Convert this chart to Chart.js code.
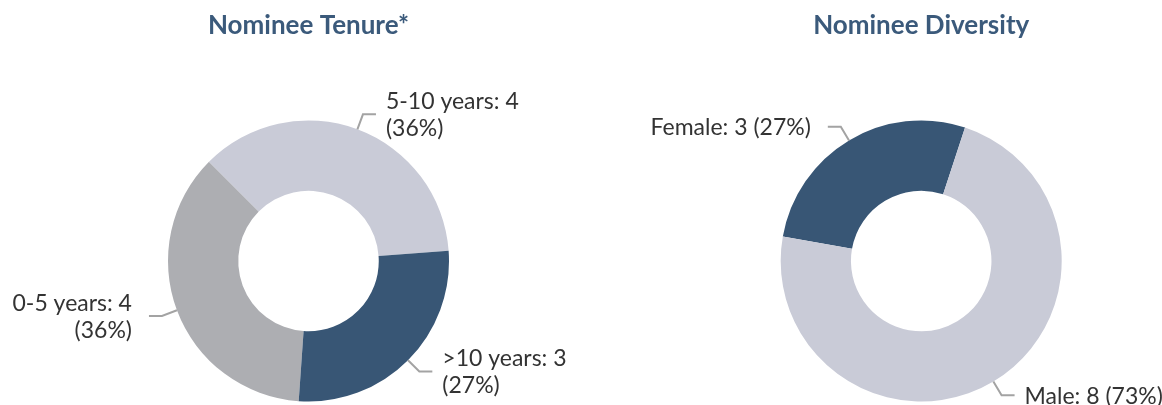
<!DOCTYPE html>
<html>
<head>
<meta charset="utf-8">
<script src="https://cdn.jsdelivr.net/npm/chart.js@4.4.1/dist/chart.umd.min.js"></script>
<style>
  html, body { margin: 0; padding: 0; background: #ffffff; }
  body { width: 1162px; height: 405px; position: relative; overflow: hidden; }
  .box { position: absolute; top: 0; width: 581px; height: 405px; }
  #boxL { left: 0; }
  #boxR { left: 581px; }
</style>
</head>
<body>
<div class="box" id="boxL"><canvas id="tenure"></canvas></div>
<div class="box" id="boxR"><canvas id="diversity"></canvas></div>
<script>
// ---- data ----
const tenureTitle = 'Nominee Tenure*';
const tenureLabels = ['0-5 years', '5-10 years', '>10 years'];
const tenureValues = [4, 4, 3];
const tenureColors = ['#adaeb2', '#c9cbd7', '#385675'];

const diversityTitle = 'Nominee Diversity';
const diversityLabels = ['Female', 'Male'];
const diversityValues = [3, 8];
const diversityColors = ['#385675', '#c9cbd7'];

const FONT = 'Lato, "Noto Sans", sans-serif';
const TEXT_COLOR = '#333333';
const TITLE_COLOR = '#3b5a7b';
const LEADER_COLOR = '#a3a3a3';

// leader-line labels drawn from each arc's own geometry
const leaderLabels = {
  id: 'leaderLabels',
  afterDraw(chart, args, opts) {
    const ctx = chart.ctx;
    const meta = chart.getDatasetMeta(0);
    const values = chart.data.datasets[0].data;
    const total = values.reduce((a, b) => a + b, 0);
    ctx.save();
    ctx.font = '23px ' + FONT;
    ctx.fillStyle = TEXT_COLOR;
    ctx.strokeStyle = LEADER_COLOR;
    ctx.lineWidth = 2;
    ctx.textBaseline = 'middle';
    meta.data.forEach((arc, i) => {
      const p = arc.getProps(['x', 'y', 'startAngle', 'endAngle', 'outerRadius'], true);
      const mid = (p.startAngle + p.endAngle) / 2;
      const c = Math.cos(mid), s = Math.sin(mid);
      const x0 = p.x + c * p.outerRadius, y0 = p.y + s * p.outerRadius;
      const ext = opts.ext;
      const x1 = p.x + c * (p.outerRadius + ext), y1 = p.y + s * (p.outerRadius + ext);
      const right = c >= 0;
      const x2 = x1 + (right ? opts.hlen : -opts.hlen);
      ctx.beginPath();
      ctx.moveTo(x0, y0);
      ctx.lineTo(x1, y1);
      ctx.lineTo(x2, y1);
      ctx.stroke();
      const pct = Math.round(values[i] / total * 100);
      const head = chart.data.labels[i] + ': ' + values[i];
      const lines = opts.wrap ? [head, '(' + pct + '%)'] : [head + ' (' + pct + '%)'];
      const lh = opts.lineHeight;
      ctx.textAlign = right ? 'left' : 'right';
      const tx = x2 + (right ? opts.gapR : -opts.gapL);
      lines.forEach((t, k) => {
        ctx.fillText(t, tx, y1 + (k - (lines.length - 1) / 2) * lh + 1);
      });
    });
    ctx.restore();
  }
};

function makeChart(id, title, labels, values, colors, rotation, padLeft, wrap) {
  return new Chart(document.getElementById(id), {
    type: 'doughnut',
    data: {
      labels: labels,
      datasets: [{
        data: values,
        backgroundColor: colors,
        hoverBackgroundColor: colors,
        borderWidth: 0,
        hoverBorderWidth: 0,
        hoverOffset: 0,
        offset: 0
      }]
    },
    options: {
      responsive: true,
      maintainAspectRatio: false,
      animation: false,
      cutout: '50%',
      rotation: rotation,
      layout: { padding: { left: padLeft, right: 0, top: 0, bottom: 3.5 } },
      events: [],
      plugins: {
        legend: { display: false },
        tooltip: { enabled: false },
        title: {
          display: true,
          text: title,
          color: TITLE_COLOR,
          font: { family: FONT, size: 26, weight: 'bold', lineHeight: 1.2 },
          padding: { top: 10.4, bottom: 78.9 }
        },
        leaderLabels: { ext: 16, hlen: 13, gapR: 10, gapL: 17, lineHeight: 27, wrap: wrap }
      }
    },
    plugins: [leaderLabels]
  });
}

makeChart('tenure', tenureTitle, tenureLabels, tenureValues, tenureColors, 184, 36, true);
makeChart('diversity', diversityTitle, diversityLabels, diversityValues, diversityColors, 280, 99.4, false);
</script>
</body>
</html>
